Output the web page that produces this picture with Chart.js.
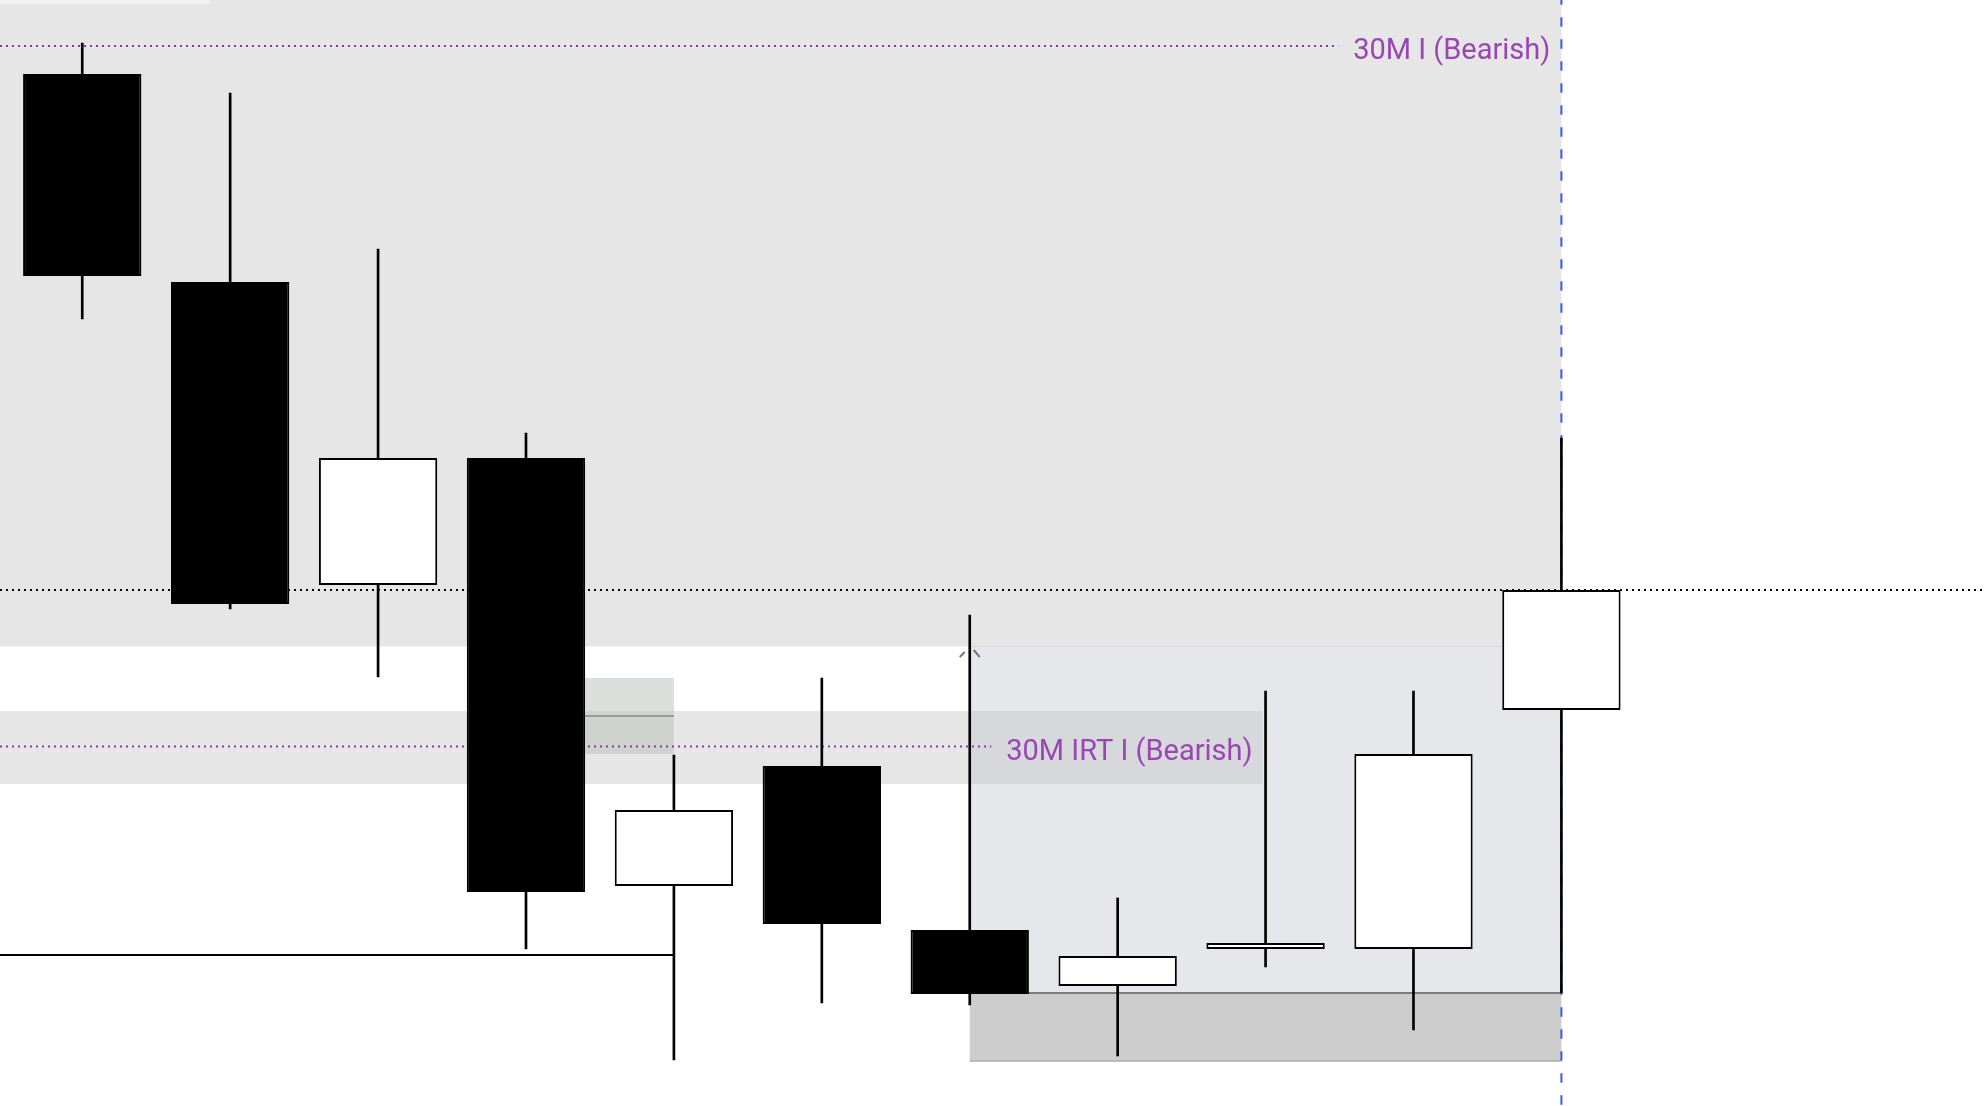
<!DOCTYPE html>
<html lang="en">
<head>
  <meta charset="UTF-8" />
  <title>30M candles</title>
  <style>
    html, body { margin: 0; padding: 0; background: #fff; }
    .wrap { width: 1984px; height: 1106px; position: relative; }
  </style>
</head>
<body>
  <div class="wrap"><canvas id="candles"></canvas></div>

  <script src="https://cdn.jsdelivr.net/npm/chart.js"></script>
  <script>
    // candle values (price points)
    const opens  = [1032, 824, 521, 648, 220, 340, 176, 120, 157, 157, 396];
    const highs  = [1063, 1013, 857, 673, 351, 428, 491, 208, 415, 415, 668];
    const lows   = [787, 497, 429, 157, 46, 103, 101, 50, 139, 76, 113];
    const closes = [830, 502, 648, 214, 296, 182, 112, 150, 163, 352, 516];

    // zones: [fromBar, toBar, lowPrice, highPrice]
    const bigZone   = [-0.6, 10, 459.5, 1110];
    const topStrip  = [-0.6, 0.864, 1102, 1110];
    const irtBand   = [-0.6, 7.98, 322, 395];
    const fvgBox    = [3.4, 4, 352, 428];
    const rangeZone = [6, 10, 113, 459.5];
    const lowZone   = [6, 10, 45, 113];

    // levels
    const levelI = 1060;
    const levelIRT = 359.5;
    const levelMid = 516;
    const levelLow = 151;
    const fvgMid = 390;
    const markerBar = 6, markerPrice = 453;
    const nowBar = 10;

    const labelI = '30M I (Bearish)';
    const labelIRT = '30M IRT I (Bearish)';

    const idx = opens.map((_, i) => i);
    const bodies = idx.map(i => ({ x: i, y: [opens[i], closes[i]] }));
    const wicks = idx.map(i => ({ x: i, y: [lows[i], highs[i]] }));
    const bull = idx.map(i => closes[i] >= opens[i]);

    const overlay = {
      id: 'overlay',
      beforeDatasetsDraw(chart) {
        const { ctx, scales: { x, y }, chartArea: a } = chart;
        const rect = (z, fill) => {
          const x0 = x.getPixelForValue(z[0]), x1 = x.getPixelForValue(z[1]);
          const y0 = y.getPixelForValue(z[3]), y1 = y.getPixelForValue(z[2]);
          ctx.fillStyle = fill;
          ctx.fillRect(x0, y0, x1 - x0, y1 - y0);
        };
        const hline = (p, from, to, color, w, dash) => {
          const yy = y.getPixelForValue(p);
          ctx.save();
          ctx.strokeStyle = color;
          ctx.lineWidth = w;
          ctx.setLineDash(dash || []);
          ctx.beginPath();
          ctx.moveTo(from, yy);
          ctx.lineTo(to, yy);
          ctx.stroke();
          ctx.restore();
        };

        ctx.save();
        ctx.fillStyle = '#fff';
        ctx.fillRect(0, 0, chart.width, chart.height);

        rect(bigZone, '#e6e6e6');
        rect(topStrip, '#f2f2f2');
        rect(irtBand, '#e6e6e6');
        rect(fvgBox, 'rgba(184,194,186,0.52)');
        rect(rangeZone, 'rgba(192,195,205,0.4)');
        rect(lowZone, '#cdcdcd');

        // zone edges
        hline(rangeZone[3], x.getPixelForValue(rangeZone[0]), x.getPixelForValue(rangeZone[1]), '#d6d7de', 1);
        hline(lowZone[3], x.getPixelForValue(lowZone[0]), x.getPixelForValue(lowZone[1]), '#7b7b85', 2);
        hline(lowZone[2], x.getPixelForValue(lowZone[0]), x.getPixelForValue(lowZone[1]), '#ababab', 1.5);
        hline(fvgMid, x.getPixelForValue(fvgBox[0]), x.getPixelForValue(fvgBox[1]), '#999d99', 2);

        // levels
        hline(levelMid, a.left, a.right, '#000', 2, [2, 4]);
        hline(levelLow, a.left, x.getPixelForValue(4), '#000', 2);

        ctx.font = '29px Roboto';
        ctx.textAlign = 'right';
        ctx.textBaseline = 'middle';
        const labelled = (p, endBar, gap, text) => {
          const right = x.getPixelForValue(endBar) - gap;
          const w = ctx.measureText(text).width;
          hline(p, a.left, right - w - 15, '#8e36a8', 2, [2, 4]);
          ctx.fillStyle = '#9a46b2';
          ctx.fillText(text, right, y.getPixelForValue(p) + 6);
        };
        labelled(levelI, nowBar, 11, labelI);
        labelled(levelIRT, irtBand[1], 10, labelIRT);

        // current bar marker
        const vx = x.getPixelForValue(nowBar);
        ctx.strokeStyle = '#3a5ce0';
        ctx.lineWidth = 2;
        ctx.setLineDash([9.5, 12.5]);
        ctx.lineDashOffset = 4.7;
        ctx.beginPath();
        ctx.moveTo(vx, a.top);
        ctx.lineTo(vx, a.bottom);
        ctx.stroke();
        ctx.setLineDash([]);

        // small caret
        const cx = x.getPixelForValue(markerBar), cy = y.getPixelForValue(markerPrice);
        ctx.strokeStyle = '#77777f';
        ctx.lineWidth = 2;
        ctx.beginPath();
        ctx.moveTo(cx - 10, cy + 4);
        ctx.lineTo(cx - 5, cy - 1);
        ctx.moveTo(cx + 4, cy - 3);
        ctx.lineTo(cx + 10, cy + 4);
        ctx.stroke();
        ctx.restore();
      }
    };

    new Chart(document.getElementById('candles'), {
      type: 'bar',
      data: {
        datasets: [
          {
            label: 'body',
            data: bodies,
            grouped: false,
            order: 0,
            barPercentage: 0.8,
            categoryPercentage: 1,
            backgroundColor: bull.map(b => b ? '#fff' : '#000'),
            borderColor: '#000',
            borderWidth: 2,
            borderSkipped: false
          },
          {
            label: 'wick',
            data: wicks,
            grouped: false,
            order: 1,
            barThickness: 2,
            backgroundColor: '#000',
            borderWidth: 0
          }
        ]
      },
      options: {
        responsive: true,
        maintainAspectRatio: false,
        animation: false,
        layout: { padding: 0 },
        plugins: { legend: { display: false }, tooltip: { enabled: false } },
        scales: {
          x: {
            type: 'linear', min: -0.556, max: 12.857, offset: false, display: false,
            // one tick per bar so the bar width follows the bar spacing
            afterBuildTicks: axis => { axis.ticks = idx.map(v => ({ value: v })); }
          },
          y: { min: 0, max: 1106, display: false }
        }
      },
      plugins: [overlay]
    });
  </script>
</body>
</html>
